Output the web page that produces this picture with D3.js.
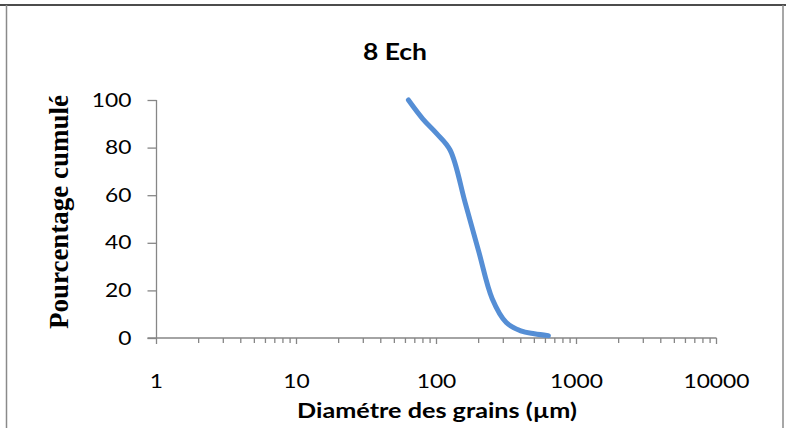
<!DOCTYPE html>
<html>
<head>
<meta charset="utf-8">
<script src="https://cdn.jsdelivr.net/npm/d3@7"></script>
<style>
  html, body { margin: 0; padding: 0; background: #fff; }
  svg { display: block; }
</style>
</head>
<body>
<svg id="chart" width="786" height="428"></svg>
<script>
// Sieve sizes (µm) and cumulative passing percentage
const diameters = [63, 80, 100, 125, 160, 200, 250, 315, 400, 500, 630];
const cumulative = [100, 92, 86, 79, 57, 36.5, 16.5, 6.5, 3, 1.8, 1];
const xTickValues = [1, 10, 100, 1000, 10000];
const yTickValues = [0, 20, 40, 60, 80, 100];
const chartTitle = "8 Ech";
const xTitle = "Diamétre des grains (µm)";
const yTitle = "Pourcentage cumulé";

const W = 786, H = 428;
const svg = d3.select("#chart");
svg.append("rect").attr("width", W).attr("height", H).attr("fill", "#fff");

// Outer frame: dark top rule, grey sides
svg.append("line").attr("x1", 0).attr("x2", W).attr("y1", 5).attr("y2", 5)
  .attr("stroke", "#111").attr("stroke-width", 1.5);
svg.append("line").attr("x1", 6.5).attr("x2", 6.5).attr("y1", 5).attr("y2", H)
  .attr("stroke", "#8a8a8a").attr("stroke-width", 1.5);
svg.append("line").attr("x1", 783).attr("x2", 783).attr("y1", 5).attr("y2", H)
  .attr("stroke", "#8a8a8a").attr("stroke-width", 1.5);

const x = d3.scaleLog().domain([1, 10000]).range([156.5, 716.5]);
const y = d3.scaleLinear().domain([0, 100]).range([338, 100]);

const axisColor = "#868686";
const sansFont = "Lato, 'Open Sans', sans-serif";

// Widen glyphs horizontally by a factor, keeping the anchor point
function widen(sel, factor) {
  sel.each(function () {
    const w = this.getComputedTextLength();
    d3.select(this).attr("textLength", w * factor).attr("lengthAdjust", "spacingAndGlyphs");
  });
  return sel;
}

// Y axis
const yAxis = svg.append("g").attr("transform", `translate(${x(1)},0)`)
  .call(d3.axisLeft(y).tickValues(yTickValues).tickSize(9).tickPadding(16));
yAxis.select(".domain").attr("stroke", axisColor).attr("stroke-width", 1.3)
  .attr("d", `M0,${y(100)}V${y(0)}`);
yAxis.selectAll(".tick line").attr("stroke", axisColor).attr("stroke-width", 1.3);
yAxis.selectAll(".tick text").attr("fill", "#000")
  .style("font-family", sansFont).style("font-size", "19px").call(widen, 1.2);

// X axis: minor ticks for every integer multiple within each decade
const minorTicks = [];
for (let p = 0; p < 4; p++) for (let m = 1; m <= 9; m++) minorTicks.push(m * Math.pow(10, p));
minorTicks.push(10000);

const xAxisG = svg.append("g").attr("transform", `translate(0,${y(0)})`);
xAxisG.append("line").attr("x1", x(1) - 9).attr("x2", x(10000))
  .attr("y1", 0).attr("y2", 0).attr("stroke", axisColor).attr("stroke-width", 1.3);
xAxisG.selectAll("line.minor").data(minorTicks).join("line").attr("class", "minor")
  .attr("x1", d => x(d)).attr("x2", d => x(d))
  .attr("y1", 0).attr("y2", d => xTickValues.includes(d) ? 6 : 5)
  .attr("stroke", axisColor).attr("stroke-width", 1.3);
xAxisG.selectAll("text.lbl").data(xTickValues).join("text").attr("class", "lbl")
  .attr("x", d => x(d)).attr("y", 50)
  .attr("text-anchor", "middle")
  .style("font-family", sansFont).style("font-size", "19px").attr("fill", "#000")
  .text(d => d)
  .call(widen, 1.2);

// Curve (smoothed in log space)
const pts = diameters.map((d, i) => [d, cumulative[i]]);
svg.append("path").datum(pts)
  .attr("fill", "none").attr("stroke", "#558ed5").attr("stroke-width", 5)
  .attr("stroke-linecap", "round")
  .attr("d", d3.line().x(d => x(d[0])).y(d => y(d[1])).curve(d3.curveCatmullRom.alpha(0.5)));

// Titles
svg.append("text").attr("x", 395).attr("y", 60).attr("text-anchor", "middle")
  .style("font-family", sansFont).style("font-weight", "bold").style("font-size", "23px")
  .text(chartTitle).call(widen, 1.15);
svg.append("text").attr("x", 437).attr("y", 418).attr("text-anchor", "middle")
  .style("font-family", sansFont).style("font-weight", "bold").style("font-size", "20px")
  .text(xTitle).call(widen, 1.26);
svg.append("text").attr("transform", `translate(68,212) rotate(-90)`)
  .attr("text-anchor", "middle")
  .style("font-family", "'Liberation Serif', 'Times New Roman', serif")
  .style("font-weight", "bold").style("font-size", "27px")
  .text(yTitle);
</script>
</body>
</html>
